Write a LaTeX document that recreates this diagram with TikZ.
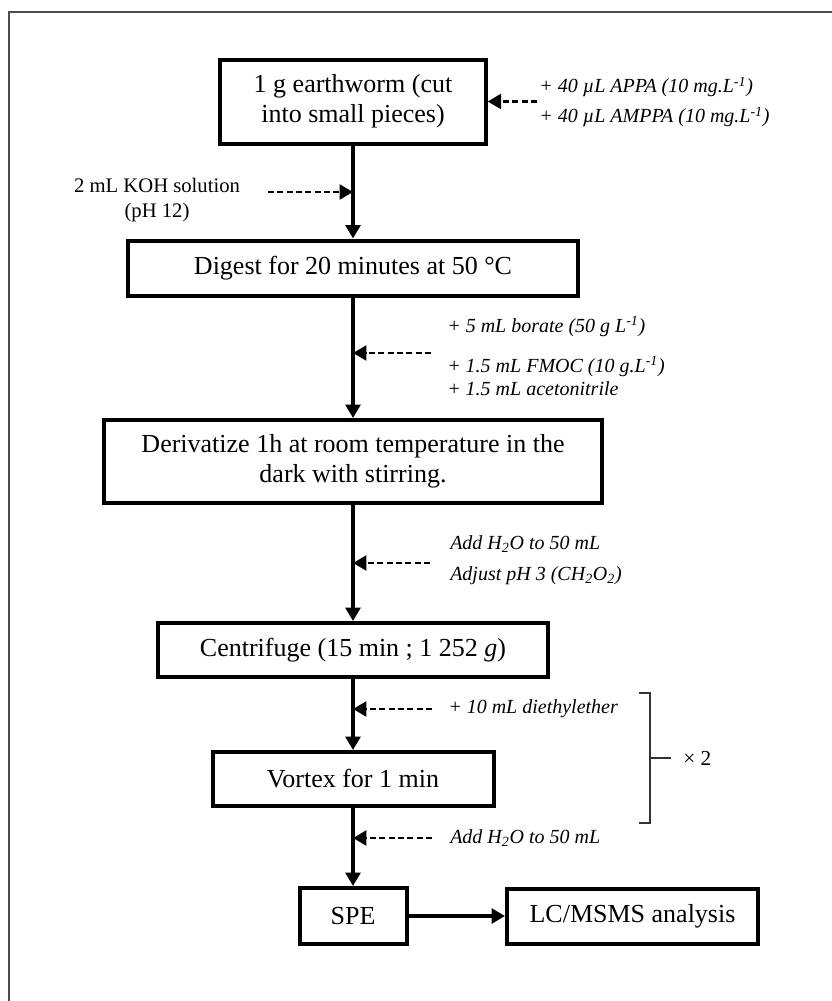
\documentclass[tikz,border=0pt]{standalone}
\usepackage{fontspec}
\setmainfont{Liberation Serif}
\usetikzlibrary{arrows.meta,calc}

\begin{document}
\begin{tikzpicture}[x=0.75pt,y=-0.75pt,>={Triangle[length=10pt,width=11pt]},
    blk/.style={draw=black, line width=3pt, align=center, inner sep=0pt,
                font=\fontsize{19.5}{22.5}\selectfont},
    lbl/.style={font=\fontsize{15}{22.5}\selectfont\itshape, align=left, inner sep=0pt, anchor=west},
    flow/.style={->, line width=3.2pt},
    feed/.style={->, line width=2.2pt, dash pattern=on 4.5pt off 2.5pt}]
  \useasboundingbox (0,0) rectangle (832,1001);
  \draw[black!70, line width=1.1pt] (9,1001) -- (9,12) -- (832,12);
  % ---- main steps ----
  \node[blk, minimum width=199pt, minimum height=63pt] (b1) at (353,101.5)
    {1 g earthworm (cut\\ into small pieces)};
  \node[blk, minimum width=337.5pt, minimum height=41.25pt] (b2) at (353,268)
    {Digest for 20 minutes at 50 °C};
  \node[blk, minimum width=373.5pt, minimum height=62.25pt] (b3) at (353,461.5)
    {Derivatize 1h at room temperature in the\\ dark with stirring.};
  \node[blk, minimum width=292.5pt, minimum height=40.5pt] (b4) at (353,650)
    {Centrifuge (15 min ; 1 252 \textit{g})};
  \node[blk, minimum width=210.75pt, minimum height=40.5pt] (b5) at (353,779)
    {Vortex for 1 min};
  \node[blk, minimum width=80.25pt, minimum height=42pt] (spe) at (353,916)
    {SPE};
  \node[blk, minimum width=188.25pt, minimum height=41.25pt] (lc) at (632.5,916)
    {LC/MSMS analysis};
  % ---- additions ----
  \node[lbl] (appa) at (539,102)
    {+ 40 µL APPA (10 mg.L\textsuperscript{-1})\\ + 40 µL AMPPA (10 mg.L\textsuperscript{-1})};
  \node[lbl, font=\fontsize{15.5}{19}\selectfont, align=center, anchor=center] (koh) at (157,200)
    {2 mL KOH solution\\ (pH 12)};
  \node[lbl] (borate) at (447,356)
    {+ 5 mL borate (50 g L\textsuperscript{-1})\\[7.5pt] + 1.5 mL FMOC (10 g.L\textsuperscript{-1})\\[-5.25pt] + 1.5 mL acetonitrile};
  \node[lbl] (acid) at (450,560)
    {Add H\textsubscript{2}O to 50 mL\\[0.75pt] Adjust pH 3 (CH\textsubscript{2}O\textsubscript{2})};
  \node[lbl] (ether) at (448,709) {+ 10 mL diethylether};
  \node[lbl] (water) at (450,838) {Add H\textsubscript{2}O to 50 mL};
  \node[font=\fontsize{16}{19}\selectfont, anchor=west, inner sep=0pt] (twice) at (683,758) {× 2};
  % ---- flow ----
  \draw[flow] (b1) -- (b2);
  \draw[flow] (b2) -- (b3);
  \draw[flow] (b3) -- (b4);
  \draw[flow] (b4) -- (b5);
  \draw[flow] (b5) -- (spe);
  \draw[flow] (spe) -- (lc);
  % ---- dashed inputs ----
  \coordinate (appaS) at (537,101.5);
  \coordinate (kohS) at (268,192);
  \coordinate (borS) at (431,353);
  \coordinate (acidS) at (430,563);
  \coordinate (etherS) at (432,709);
  \coordinate (waterS) at (432,838);
  \draw[feed] (appaS) -- (appaS -| b1.east);
  \draw[feed] (kohS) -- (kohS -| b1.south);
  \draw[feed] (borS) -- (borS -| b2.south);
  \draw[feed] (acidS) -- (acidS -| b3.south);
  \draw[feed] (etherS) -- (etherS -| b4.south);
  \draw[feed] (waterS) -- (waterS -| b5.south);
  % ---- repeat bracket ----
  \coordinate (brT) at (650,693);
  \coordinate (brB) at (650,823);
  \draw[black!80, line width=1.5pt] ($(brT)+(-11,0)$) -- (brT) -- (brB) -- ++(-11,0);
  \draw[black!80, line width=1.5pt] ($(brT)!0.5!(brB)$) -- ++(21,0);
\end{tikzpicture}
\end{document}
